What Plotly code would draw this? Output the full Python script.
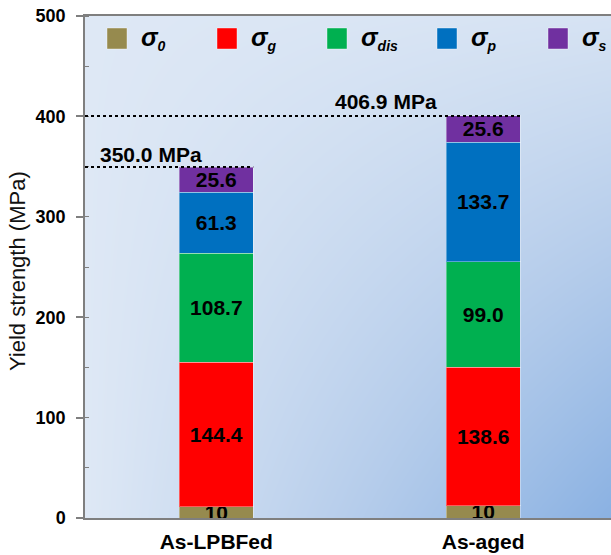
import numpy as np
import plotly.graph_objects as go

# ---------------- data ----------------
categories = ["As-LPBFed", "As-aged"]
subscripts = ["0", "g", "dis", "p", "s"]
colors = ["#968A4E", "#FF0000", "#00B050", "#0070C0", "#7030A0"]

# drawn segment heights
sigma0_vals = [11, 12]
sigmag_vals = [144, 138]
sigmadis_vals = [108.5, 105]
sigmap_vals = [61, 119.5]
sigmas_vals = [25, 26]

# printed labels
sigma0_lbl = [10, 10]
sigmag_lbl = [144.4, 138.6]
sigmadis_lbl = [108.7, 99.0]
sigmap_lbl = [61.3, 133.7]
sigmas_lbl = [25.6, 25.6]

y_ticks = [0, 100, 200, 300, 400, 500]

series_vals = [sigma0_vals, sigmag_vals, sigmadis_vals, sigmap_vals, sigmas_vals]
series_lbl = [sigma0_lbl, sigmag_lbl, sigmadis_lbl, sigmap_lbl, sigmas_lbl]

# ---------------- geometry ----------------
WIDTH, HEIGHT = 611, 555
L, T, W, H = 85, 16, 526, 502
XR = [-0.492, 1.479]
YR = [0, 500]
BAR_W = 0.277
FONT = "Liberation Sans, Arial, sans-serif"


def px_x(px):
    return XR[0] + (px - L) / W * (XR[1] - XR[0])


def px_y(py):
    return YR[0] + (T + H - py) / H * (YR[1] - YR[0])


def pap_x(px):
    return (px - L) / W


def pap_y(py):
    return (T + H - py) / H


def fmt(v):
    return str(int(v)) if float(v).is_integer() and v < 20 else f"{v:.1f}"


fig = go.Figure()

# background gradient (styling) on base axes
gx = np.linspace(0, 1, 60)
gy = np.linspace(0, 1, 60)
GX, GY = np.meshgrid(gx, gy)
GZ = GX * (0.1 + 0.9 * (1 - GY))
fig.add_trace(go.Heatmap(
    x=gx, y=gy, z=GZ, zsmooth="best", showscale=False, hoverinfo="skip",
    colorscale=[[0, "#dee8f5"], [0.5, "#b6cdeb"], [1, "#8ab1e2"]],
    zmin=0, zmax=1, xaxis="x", yaxis="y",
))

for sub, col, vals, lbls in zip(subscripts, colors, series_vals, series_lbl):
    fig.add_trace(go.Bar(
        x=categories, y=vals, width=BAR_W, name="σ" + sub,
        marker=dict(color=col, line=dict(color="rgba(255,255,255,0.35)", width=1)),
        text=[fmt(v) for v in lbls], textposition="inside",
        insidetextanchor="middle", textangle=0, constraintext="none",
        textfont=dict(family=FONT, size=21, color="black", weight="bold"),
        showlegend=False, xaxis="x2", yaxis="y2", hoverinfo="skip",
    ))

shapes = []
annotations = []

# totals: dotted line + label
totals_drawn = [sum(v[i] for v in series_vals) for i in range(len(categories))]
totals_lbl = [sum(v[i] for v in series_lbl) for i in range(len(categories))]
lbl_pos = [(150.6, 154), (386, 101.5)]
for i, (td, tl) in enumerate(zip(totals_drawn, totals_lbl)):
    shapes.append(dict(type="line", xref="x2", yref="y2", x0=XR[0], x1=i + BAR_W / 2,
                       y0=td, y1=td, line=dict(color="black", width=2, dash="dot"),
                       layer="above"))
    annotations.append(dict(xref="x2", yref="y2", x=px_x(lbl_pos[i][0]), y=px_y(lbl_pos[i][1]),
                            text=f"<b>{tl:.1f} MPa</b>", showarrow=False,
                            font=dict(family=FONT, size=21, color="black"),
                            xanchor="center", yanchor="middle"))

# custom legend
sq_x = [107, 217, 327, 437, 548]
for sx, sub, col in zip(sq_x, subscripts, colors):
    shapes.append(dict(type="rect", xref="paper", yref="paper",
                       x0=pap_x(sx), x1=pap_x(sx + 20), y0=pap_y(49), y1=pap_y(28),
                       fillcolor=col, line=dict(color="rgba(255,255,255,0.4)", width=1),
                       layer="above"))
    annotations.append(dict(xref="paper", yref="paper", x=pap_x(sx + 32), y=pap_y(39),
                            text=f"<b><i>σ</i></b><sub><b><i><span style='font-size:14px'>{sub}</span></i></b></sub>",
                            showarrow=False, xanchor="left", yanchor="middle",
                            font=dict(family=FONT, size=25, color="black")))

# y-axis title
annotations.append(dict(xref="paper", yref="paper", x=pap_x(17), y=pap_y(271),
                        text="Yield strength (MPa)", textangle=-90, showarrow=False,
                        xanchor="center", yanchor="middle",
                        font=dict(family=FONT, size=22, color="#111111")))

AXC = "#7f7f7f"
fig.update_layout(
    width=WIDTH, height=HEIGHT,
    margin=dict(l=L, r=WIDTH - L - W, t=T, b=HEIGHT - T - H, pad=0),
    paper_bgcolor="white", plot_bgcolor="#dee8f5",
    barmode="stack", showlegend=False,
    uniformtext=dict(minsize=21, mode="show"),
    xaxis=dict(domain=[0, 1], range=[0, 1], visible=False, fixedrange=True),
    yaxis=dict(domain=[0, 1], range=[0, 1], visible=False, fixedrange=True),
    xaxis2=dict(overlaying="x", anchor="y2", type="category", range=XR,
                showline=True, linecolor=AXC, linewidth=1.5, mirror=True,
                ticks="", showgrid=False, zeroline=False, automargin=False,
                tickfont=dict(family=FONT, size=21, color="black", weight="bold"),
                ticklabelstandoff=4),
    yaxis2=dict(overlaying="y", anchor="x2", range=YR, tickvals=y_ticks,
                showline=True, linecolor=AXC, linewidth=1.5,
                ticks="outside", ticklen=7, tickcolor=AXC, tickwidth=1.5,
                minor=dict(dtick=50, ticks="inside", ticklen=4, tickcolor=AXC, tickwidth=1),
                showgrid=False, zeroline=False, automargin=False,
                tickfont=dict(family=FONT, size=18, color="black", weight="bold"),
                ticklabelstandoff=7),
    shapes=shapes, annotations=annotations,
)

fig.write_html("out.html")
